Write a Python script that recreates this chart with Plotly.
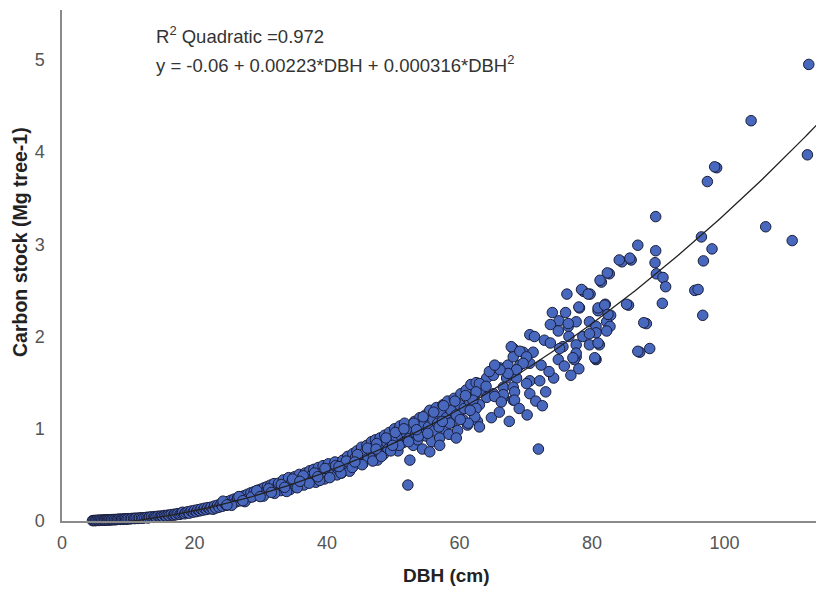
import plotly.graph_objects as go

# ---- data ----
dbh = [
    4.6, 4.8, 5.0, 5.1, 5.3, 5.5, 5.6, 5.8, 6.0, 6.2,
    6.4, 6.5, 6.7, 6.9, 7.0, 7.2, 7.4, 7.5, 7.7, 7.9,
    8.0, 8.2, 8.4, 8.6, 8.8, 9.0, 9.2, 9.4, 9.6, 9.8,
    10.0, 10.3, 10.5, 10.8, 11.0, 11.2, 11.5, 11.7, 12.0, 12.2,
    12.5, 12.8, 13.0, 13.2, 13.5, 13.8, 14.0, 14.2, 14.5, 14.8,
    15.0, 15.2, 15.5, 15.7, 16.0, 16.2, 16.5, 16.8, 17.0, 17.2,
    17.5, 17.8, 18.0, 18.2, 18.5, 18.7, 19.0, 19.2, 19.5, 19.8,
    20.0, 20.3, 20.5, 20.8, 21.0, 21.3, 21.5, 21.8, 22.0, 22.3,
    22.5, 22.8, 23.0, 23.2, 23.5, 23.7, 24.0, 24.2, 24.5, 24.8,
    25.0, 25.2, 25.5, 25.8, 26.0, 26.2, 26.5, 26.8, 27.0, 27.2,
    27.5, 27.8, 28.0, 28.2, 28.5, 28.8, 29.0, 29.2, 29.5, 29.8,
    30.0, 30.2, 30.5, 30.8, 31.0, 31.3, 31.5, 31.8, 32.0, 32.3,
    32.5, 32.7, 33.0, 33.2, 33.4, 33.7, 34.0, 34.2, 34.4, 34.7,
    35.0, 35.1, 35.3, 35.6, 35.8, 36.0, 36.2, 36.5, 36.7, 37.0,
    37.2, 37.4, 37.6, 37.9, 38.0, 38.3, 38.5, 38.7, 39.0, 39.2,
    39.4, 39.6, 39.9, 40.0, 40.2, 40.5, 40.7, 41.0, 41.2, 41.5,
    41.7, 42.0, 42.2, 42.4, 42.7, 43.0, 43.1, 43.4, 43.6, 43.9,
    44.0, 44.3, 44.5, 44.8, 45.0, 45.2, 45.4, 45.7, 46.0, 46.2,
    46.4, 46.7, 47.0, 47.1, 47.3, 47.6, 47.8, 48.0, 48.3, 48.5,
    48.7, 49.0, 49.2, 49.4, 49.7, 50.0, 50.2, 50.4, 50.7, 51.0,
    51.2, 51.5, 51.7, 52.0, 52.2,
    52.5, 52.7, 53.0, 53.2, 53.4, 53.7, 54.0, 54.2, 54.4, 54.6,
    54.9, 55.0, 55.3, 55.5, 55.8, 56.0, 56.2, 56.5, 56.7, 57.0,
    57.2, 57.5, 57.7, 58.0, 58.2, 58.4, 58.7, 59.0, 59.2, 59.5,
    59.7, 60.0, 60.2, 60.5, 60.7, 61.0, 61.2, 61.5, 61.7, 62.0,
    62.2, 62.5, 62.7, 63.0, 63.2,
    64.1, 65.1, 66.1, 67.1, 68.6, 70.6, 72.1, 66.6, 68.1, 65.1,
    66.6, 68.1, 70.6, 64.1, 67.3, 69.1, 70.6, 72.3, 68.1, 69.6,
    71.1, 68.1, 67.8, 69.1, 70.1, 69.6, 68.6, 67.3, 66.1, 64.5,
    65.3, 70.1, 68.3, 66.6, 65.3, 66.3, 68.3, 63.0, 64.0, 62.5,
    62.0, 62.5, 62.3, 61.3, 63.0, 59.5, 57.0, 55.5, 52.5, 70.6,
    71.3, 72.8, 71.9, 52.2,
    64.8, 66.0, 67.5, 69.0, 70.2, 71.5, 73.0, 74.2, 72.5,
    74.0, 75.0, 73.7, 76.4, 77.6, 79.6, 80.6, 74.9, 76.5, 78.6,
    80.6, 73.7, 75.6, 77.6, 79.6, 81.1, 77.6, 77.3, 80.6, 75.1,
    76.2, 78.7, 79.7, 78.1, 76.0, 82.0, 80.9, 82.8, 82.2, 82.7,
    82.2, 82.6, 81.4, 84.5, 85.9, 85.5, 87.2, 88.2, 80.5, 78.4,
    79.4, 78.0, 80.9, 81.9, 82.4, 76.4, 79.6, 80.9, 77.6, 80.4,
    77.1, 74.9, 73.5, 75.8, 78.0, 76.8,
    112.7, 104.0, 112.5, 98.8, 98.5, 97.4, 89.6, 106.2, 110.2, 96.5,
    98.1, 96.8, 86.9, 89.6, 84.1, 85.7, 89.5, 89.7, 90.7, 91.1,
    82.3, 81.2, 95.5, 96.0, 90.6, 85.2, 96.7, 87.8, 86.9, 88.7,
]

carbon = [
    0.004, 0.005, 0.006, 0.004, 0.007, 0.008, 0.006, 0.009, 0.010, 0.008,
    0.011, 0.009, 0.012, 0.013, 0.010, 0.014, 0.012, 0.015, 0.016, 0.013,
    0.017, 0.015, 0.018, 0.020, 0.017, 0.021, 0.019, 0.022, 0.024, 0.020,
    0.025, 0.023, 0.027, 0.029, 0.026, 0.031, 0.028, 0.033, 0.035, 0.030,
    0.036, 0.040, 0.033, 0.042, 0.045, 0.039, 0.048, 0.044, 0.052, 0.047,
    0.055, 0.050, 0.060, 0.054, 0.064, 0.058, 0.069, 0.062, 0.074, 0.067,
    0.080, 0.072, 0.086, 0.095, 0.078, 0.092, 0.100, 0.085, 0.108, 0.096,
    0.115, 0.102, 0.122, 0.110, 0.130, 0.118, 0.138, 0.125, 0.145, 0.132,
    0.150, 0.128, 0.162, 0.140, 0.172, 0.150, 0.185, 0.160, 0.198, 0.170,
    0.210, 0.180, 0.225, 0.195, 0.238, 0.205, 0.250, 0.218, 0.262, 0.230,
    0.275, 0.240, 0.290, 0.255, 0.305, 0.265, 0.318, 0.280, 0.332, 0.292,
    0.345, 0.305, 0.360, 0.320, 0.375, 0.330, 0.390, 0.345, 0.405, 0.360,
    0.350, 0.410, 0.330, 0.380, 0.445, 0.360, 0.400, 0.470, 0.340, 0.425,
    0.395, 0.480, 0.370, 0.440, 0.505, 0.415, 0.455, 0.390, 0.520, 0.470,
    0.430, 0.545, 0.490, 0.450, 0.560, 0.420, 0.510, 0.580, 0.470, 0.535,
    0.600, 0.455, 0.550, 0.505, 0.620, 0.480, 0.575, 0.530, 0.640, 0.500,
    0.560, 0.610, 0.520, 0.660, 0.580, 0.620, 0.700, 0.540, 0.650, 0.730,
    0.600, 0.690, 0.760, 0.640, 0.710, 0.800, 0.620, 0.740, 0.820, 0.680,
    0.770, 0.860, 0.700, 0.800, 0.880, 0.660, 0.750, 0.900, 0.820, 0.720,
    0.930, 0.850, 0.780, 0.960, 0.880, 0.800, 1.000, 0.900, 0.760, 1.030,
    0.920, 0.850, 1.060, 0.950, 0.880,
    0.900, 1.000, 0.820, 1.080, 0.950, 0.880, 1.120, 0.980, 0.780, 1.050,
    1.150, 0.920, 1.020, 1.200, 0.860, 1.100, 0.980, 1.230, 1.060, 0.900,
    1.180, 1.260, 1.000, 1.120, 1.300, 0.940, 1.200, 1.080, 1.330, 1.150,
    0.980, 1.260, 1.380, 1.100, 1.220, 1.420, 1.040, 1.300, 1.480, 1.180,
    1.350, 1.500, 1.080, 1.260, 1.420,
    1.55, 1.58, 1.66, 1.55, 1.55, 1.52, 1.52, 1.45, 1.45, 1.38,
    1.34, 1.31, 1.38, 1.34, 1.69, 1.69, 1.71, 1.69, 1.87, 1.83,
    1.83, 1.78, 1.89, 1.84, 1.78, 1.71, 1.64, 1.60, 1.64, 1.62,
    1.69, 1.49, 1.40, 1.37, 1.35, 1.29, 1.31, 1.49, 1.46, 1.40,
    1.31, 1.22, 1.13, 1.06, 1.02, 0.90, 0.82, 0.75, 0.66, 2.02,
    2.00, 1.96, 0.78, 0.39,
    1.12, 1.18, 1.08, 1.22, 1.15, 1.30, 1.40, 1.55, 1.25,
    2.26, 2.17, 2.13, 2.11, 2.16, 2.16, 2.11, 2.06, 2.00, 2.00,
    2.04, 1.93, 1.89, 1.91, 1.91, 1.91, 1.78, 1.75, 1.75, 1.87,
    2.46, 2.49, 2.46, 2.31, 2.26, 2.35, 2.28, 2.23, 2.16, 2.11,
    2.06, 2.68, 2.59, 2.81, 2.83, 2.34, 1.83, 2.14, 1.76, 2.51,
    2.46, 2.32, 2.31, 2.34, 2.24, 2.14, 2.03, 1.93, 1.82, 1.77,
    1.77, 1.75, 1.62, 1.68, 1.65, 1.58,
    4.95, 4.34, 3.97, 3.83, 3.84, 3.68, 3.30, 3.19, 3.04, 3.08,
    2.95, 2.82, 2.99, 2.93, 2.83, 2.85, 2.80, 2.68, 2.64, 2.54,
    2.69, 2.61, 2.50, 2.51, 2.36, 2.35, 2.23, 2.15, 1.84, 1.87,
]

# more trees inside the dense middle band
dbh_extra = [
    24.3, 25.6, 26.7, 27.6, 28.6, 29.4, 30.4, 31.2, 32.1, 33.1,
    33.9, 34.8, 35.5, 36.4, 37.3, 38.1, 38.9, 39.7, 40.4, 41.3,
    42.1, 42.9, 43.8, 44.6, 45.3, 46.1, 46.9, 47.5, 48.2, 48.9,
    49.6, 50.3, 50.9, 51.6, 52.3, 53.1, 53.8, 54.5, 55.2, 56.1,
    56.9, 57.6, 58.5, 59.3, 60.1, 60.9, 61.6, 24.9, 27.3, 29.9,
    31.6, 33.6, 35.9, 38.6, 41.8, 44.2, 47.4, 49.9, 53.5, 57.4,
]
carbon_extra = [
    0.215, 0.170, 0.265, 0.210, 0.260, 0.330, 0.270, 0.350, 0.300, 0.395,
    0.320, 0.455, 0.360, 0.490, 0.410, 0.520, 0.440, 0.570, 0.470, 0.600,
    0.520, 0.650, 0.580, 0.720, 0.610, 0.790, 0.650, 0.840, 0.700, 0.900,
    0.760, 0.960, 0.820, 1.000, 0.860, 1.060, 0.920, 1.130, 0.950, 1.180,
    1.020, 1.250, 1.060, 1.300, 1.100, 1.360, 1.200, 0.175, 0.220, 0.265,
    0.310, 0.365, 0.430, 0.480, 0.590, 0.640, 0.780, 0.820, 0.990, 1.080,
]

# quadratic fit as printed on the chart
fit_b0 = -0.06
fit_b1 = 0.00223
fit_b2 = 0.000316
fit_x = [i * 0.5 for i in range(0, 233)]
fit_y = [fit_b0 + fit_b1 * v + fit_b2 * v * v for v in fit_x]

x_ticks = [0, 20, 40, 60, 80, 100]
y_ticks = [0, 1, 2, 3, 4, 5]

FONT = "Liberation Sans, Arial, sans-serif"

all_dbh = dbh + dbh_extra
all_carbon = carbon + carbon_extra

fig = go.Figure()
fig.add_trace(go.Scatter(
    x=all_dbh, y=all_carbon, mode="markers",
    marker=dict(size=10.5, color="#4868be", line=dict(color="#1a1d3a", width=1)),
    cliponaxis=False, showlegend=False, hoverinfo="x+y",
))
fig.add_trace(go.Scatter(
    x=fit_x, y=fit_y, mode="lines",
    line=dict(color="#222222", width=1.3),
    showlegend=False, hoverinfo="skip",
))

# page body adds an 8px offset; margins compensate so the plot lands where the reference has it
fig.update_layout(
    width=824, height=592,
    margin=dict(l=54, r=8, t=2, b=79),
    paper_bgcolor="white", plot_bgcolor="white",
    font=dict(family=FONT, color="#444444", size=18),
    xaxis=dict(
        range=[0, 115], tickvals=x_ticks, ticktext=[str(v) for v in x_ticks],
        showgrid=False, zeroline=False, showline=True, linecolor="#8a8a8a",
        linewidth=1.5, ticks="", tickfont=dict(size=18, color="#555555"),
        ticklabelstandoff=5, automargin=False,
    ),
    yaxis=dict(
        range=[0, 5.54], tickvals=y_ticks, ticktext=[str(v) for v in y_ticks],
        showgrid=False, zeroline=False, showline=True, linecolor="#8a8a8a",
        linewidth=1.5, ticks="", tickfont=dict(size=18, color="#555555"),
        ticklabelstandoff=12, automargin=False,
    ),
    annotations=[
        dict(text="<b>Carbon stock (Mg tree-1)</b>", xref="paper", yref="paper",
             x=-0.0551, y=0.546, textangle=-90, showarrow=False,
             font=dict(size=19.5, color="#222222"), xanchor="center", yanchor="middle"),
        dict(text="<b>DBH (cm)</b>", xref="paper", yref="paper",
             x=0.504, y=-0.1057, showarrow=False,
             font=dict(size=19, color="#222222"), xanchor="center", yanchor="middle"),
        dict(text="R<sup>2</sup> Quadratic =0.972", xref="paper", yref="paper",
             x=0.1207, y=0.952, showarrow=False, xanchor="left", yanchor="middle",
             font=dict(size=18.5, color="#333333")),
        dict(text="y = -0.06 + 0.00223*DBH + 0.000316*DBH<sup>2</sup>", xref="paper", yref="paper",
             x=0.1207, y=0.894, showarrow=False, xanchor="left", yanchor="middle",
             font=dict(size=18.5, color="#333333")),
    ],
)

fig.write_html("out.html")
